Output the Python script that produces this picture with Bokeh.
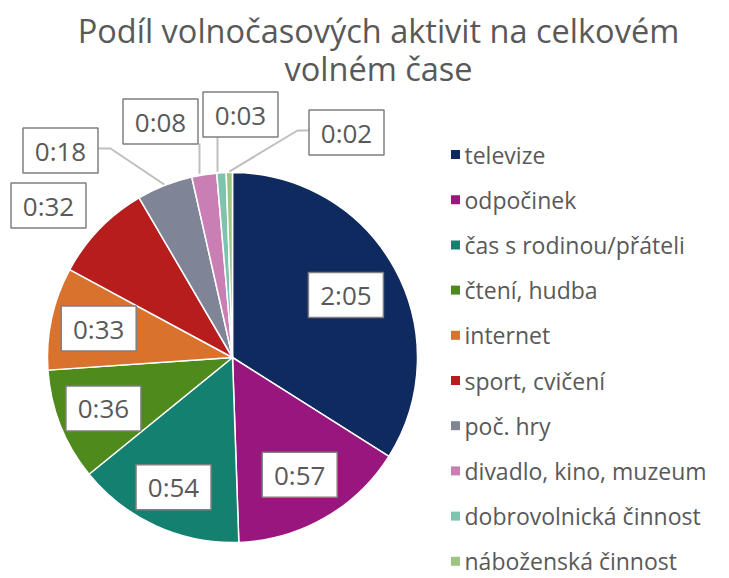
import math
from bokeh.plotting import figure
from bokeh.models import Range1d, ColumnDataSource
from bokeh.core.properties import value
from bokeh.embed import file_html
from bokeh.resources import INLINE

# ---- data ----
categories = ["televize", "odpočinek", "čas s rodinou/přáteli", "čtení, hudba", "internet",
              "sport, cvičení", "poč. hry", "divadlo, kino, muzeum", "dobrovolnická činnost",
              "náboženská činnost"]
minutes = [125, 57, 54, 36, 33, 32, 18, 8, 3, 2]
labels = ["2:05", "0:57", "0:54", "0:36", "0:33", "0:32", "0:18", "0:08", "0:03", "0:02"]
colors = ["#0F2A5E", "#9A167F", "#14806F", "#4F8A1C", "#D8722C", "#B81D1E",
          "#7F8596", "#C97FB4", "#7DC3AE", "#9DC57F"]
title_lines = ["Podíl volnočasových aktivit na celkovém", "volném čase"]

W, H = 729, 578
FONT = "Open Sans"
GREY = "#595959"

p = figure(width=W, height=H, output_backend="svg", toolbar_location=None,
           x_range=Range1d(0, W), y_range=Range1d(0, H), min_border=0)
p.axis.visible = False
p.grid.visible = False
p.outline_line_color = None
p.background_fill_color = "white"
p.border_fill_color = "white"

def Y(y):  # convert top-down pixel coordinate to data
    return H - y

# pie layout
cx, cy, R = 232, 357, 185
total = float(sum(minutes))
starts, ends, mids = [], [], []
acc = 0.0
for m in minutes:
    a0 = acc / total
    acc += m
    a1 = acc / total
    starts.append(math.pi / 2 - 2 * math.pi * a0)
    ends.append(math.pi / 2 - 2 * math.pi * a1)
    mids.append(2 * math.pi * (a0 + a1) / 2)  # clockwise from top

src = ColumnDataSource(dict(start=starts, end=ends, color=colors, cat=categories))
p.wedge(x=cx, y=Y(cy), radius=R, start_angle="start", end_angle="end", direction="clock",
        fill_color="color", line_color="white", line_width=1.5, source=src)

# label positions: inside for large slices, outside boxes for small ones
inside_frac = [0.70, 0.73, 0.77, 0.75, 0.74]
outside_pos = {5: (48, 205), 6: (60, 150), 7: (160, 121), 8: (240, 114), 9: (346, 132)}
# leader lines (elbow, attach) for outside labels
leaders = {
    6: [(110, 148), (98, 148)],
    7: [(199, 143)],
    8: [(217, 136)],
    9: [(297, 130), (309, 130)],
}
lx, ly = [], []
for i in range(len(minutes)):
    if i < len(inside_frac):
        r = inside_frac[i] * R
        x = cx + r * math.sin(mids[i])
        y = cy - r * math.cos(mids[i])
    else:
        x, y = outside_pos[i]
    lx.append(x)
    ly.append(Y(y))

# leaders
xs, ys = [], []
for i, pts in leaders.items():
    ax = cx + (R + 1) * math.sin(mids[i])
    ay = cy - (R + 1) * math.cos(mids[i])
    if len(pts) == 1:
        ax = pts[0][0]
    path = [(ax, ay)] + pts
    xs.append([q[0] for q in path])
    ys.append([Y(q[1]) for q in path])
p.multi_line(xs=xs, ys=ys, line_color="#BFBFBF", line_width=2)

lsrc = ColumnDataSource(dict(x=lx, y=ly, text=labels))
p.rect(x="x", y="y", width=75, height=45, fill_color="white", line_color="#7F7F7F",
       line_width=1.5, source=lsrc)
p.text(x="x", y="y", text="text", text_align="center", text_baseline="middle",
       text_font=value(FONT), text_font_size="26px", text_color=GREY, source=lsrc)

# legend
leg_y = [154 + 45.2 * i for i in range(len(categories))]
p.scatter(x=[455] * len(categories), y=[Y(v) for v in leg_y], marker="square", size=9,
          fill_color=colors, line_color=None)
p.text(x=[464] * len(categories), y=[Y(v) for v in leg_y], text=categories,
       text_align="left", text_baseline="middle", text_font=value(FONT),
       text_font_size="23px", text_color=GREY)

# title
p.text(x=[378, 378], y=[Y(30), Y(68)], text=title_lines, text_align="center",
       text_baseline="middle", text_font=value(FONT), text_font_size="32.5px",
       text_color=GREY)

open("out.html", "w").write(file_html(p, INLINE))
